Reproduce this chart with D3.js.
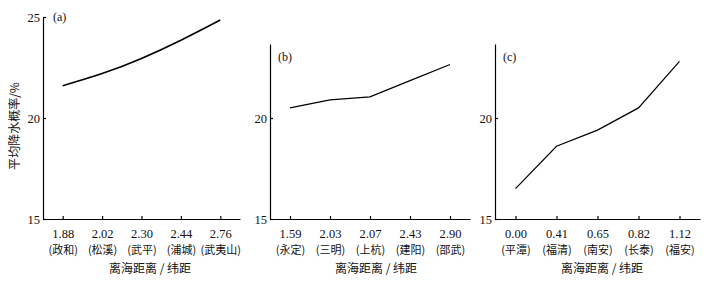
<!DOCTYPE html>
<html>
<head>
<meta charset="utf-8">
<script src="https://cdn.jsdelivr.net/npm/d3@7"></script>
<style>
  body { margin: 0; background: #fff; }
  svg { display: block; }
</style>
</head>
<body>
<svg id="chart" width="722" height="291"></svg>
<script>
// 各子图数据：离海距离/纬距，站点名，平均降水概率(%)
const distA = ['1.88', '2.02', '2.30', '2.44', '2.76'];
const namesA = ['政和', '松溪', '武平', '浦城', '武夷山'];
const valuesA = [21.6, 22.2, 22.95, 23.85, 24.85];

const distB = ['1.59', '2.03', '2.07', '2.43', '2.90'];
const namesB = ['永定', '三明', '上杭', '建阳', '邵武'];
const valuesB = [20.5, 20.9, 21.05, 21.85, 22.65];

const distC = ['0.00', '0.41', '0.65', '0.82', '1.12'];
const namesC = ['平潭', '福清', '南安', '长泰', '福安'];
const valuesC = [16.5, 18.6, 19.4, 20.5, 22.8];

const yTicksA = [15, 20, 25];
const yTicksBC = [15, 20];

const serif = '"Liberation Serif", "DejaVu Serif", serif';
const cjk = '"Noto Sans CJK SC", sans-serif';

const svg = d3.select('#chart');

function drawPanel(opt) {
  const g = svg.append('g');

  const x = d3.scalePoint()
    .domain(opt.dist)
    .range([opt.left, opt.right])
    .padding(0.5);

  const y = d3.scaleLinear()
    .domain([15, opt.yMax])
    .range([219, opt.top]);

  // x 轴
  const xAxis = g.append('g')
    .attr('transform', 'translate(0,219)')
    .call(d3.axisBottom(x).tickSizeInner(-3).tickSizeOuter(0).tickPadding(10));
  xAxis.selectAll('text')
    .style('font-family', serif)
    .style('font-size', '12.5px')
    .attr('fill', '#111');
  xAxis.selectAll('.tick')
    .append('text')
    .attr('y', 35)
    .attr('text-anchor', 'middle')
    .style('font-family', cjk)
    .style('font-size', '11px')
    .attr('fill', '#111')
    .text((d, i) => '(' + opt.names[i] + ')');

  // y 轴
  const yAxis = g.append('g')
    .attr('transform', `translate(${opt.left},0)`)
    .call(d3.axisLeft(y).tickValues(opt.yTicks).tickSizeInner(-3).tickSizeOuter(0).tickPadding(3));
  yAxis.selectAll('text')
    .style('font-family', serif)
    .style('font-size', '12.5px')
    .attr('fill', '#111');

  g.selectAll('.domain, .tick line')
    .attr('stroke', '#000')
    .attr('stroke-width', 1.2);

  // 折线
  const line = d3.line()
    .x((d, i) => x(opt.dist[i]))
    .y(d => y(d))
    .curve(opt.curve);

  g.append('path')
    .datum(opt.values)
    .attr('d', line)
    .attr('fill', 'none')
    .attr('stroke', '#000')
    .attr('stroke-width', opt.lineWidth);

  // 子图标号
  g.append('text')
    .attr('x', opt.left + opt.labelDx)
    .attr('y', opt.labelY)
    .style('font-family', serif)
    .style('font-size', '12px')
    .attr('fill', '#111')
    .text(opt.label);

  // x 轴标题
  g.append('text')
    .attr('x', opt.titleX)
    .attr('y', 273)
    .attr('text-anchor', 'middle')
    .style('font-family', cjk)
    .style('font-size', '12px')
    .attr('fill', '#111')
    .text('离海距离 / 纬距');
}

drawPanel({
  dist: distA, names: namesA, values: valuesA,
  left: 43, right: 240, top: 17, yMax: 25, yTicks: yTicksA,
  curve: d3.curveNatural, lineWidth: 1.6,
  label: '(a)', labelDx: 10, labelY: 21, titleX: 150
});

drawPanel({
  dist: distB, names: namesB, values: valuesB,
  left: 270, right: 470, top: 44, yMax: 15 + 175 / 101 * 5, yTicks: yTicksBC,
  curve: d3.curveLinear, lineWidth: 1.2,
  label: '(b)', labelDx: 8, labelY: 61, titleX: 376
});

drawPanel({
  dist: distC, names: namesC, values: valuesC,
  left: 495, right: 700, top: 44, yMax: 15 + 175 / 101 * 5, yTicks: yTicksBC,
  curve: d3.curveLinear, lineWidth: 1.2,
  label: '(c)', labelDx: 8, labelY: 61, titleX: 602
});

// y 轴标题
svg.append('text')
  .attr('transform', 'translate(19,126) rotate(-90)')
  .attr('text-anchor', 'middle')
  .style('font-family', cjk)
  .style('font-size', '12px')
  .attr('fill', '#111')
  .text('平均降水概率/%');
</script>
</body>
</html>
